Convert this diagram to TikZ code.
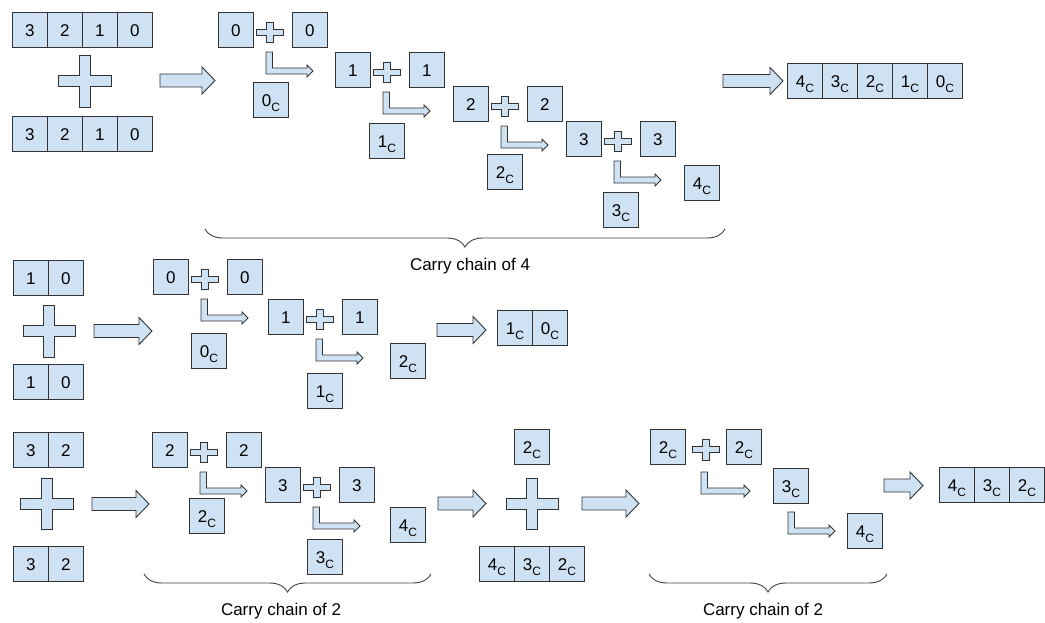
\documentclass[tikz,border=0pt]{standalone}
\usepackage{fontspec}
\setmainfont{Liberation Sans}
\usetikzlibrary{decorations.pathreplacing}
\definecolor{boxblue}{HTML}{CFE2F3}
\definecolor{edge}{HTML}{333333}

\newcommand{\mycarry}[1]{#1\raisebox{-5.5pt}{\fontsize{12}{12}\selectfont C}}

\tikzset{
 cell/.style={draw=edge, fill=boxblue, line width=0.9pt, minimum width=35pt, minimum height=35pt, inner sep=0pt, anchor=north west, text height=12.2pt, text depth=0pt, font=\fontsize{17}{20}\selectfont},
 shp/.style={draw=edge, fill=boxblue, line width=0.9pt, line join=miter},
 bracestyle/.style={draw=black!75, line width=0.9pt, decorate, decoration={brace, mirror, amplitude=18pt, aspect=0.5}},
 lbl/.style={anchor=base, font=\fontsize{17}{20}\selectfont, inner sep=0pt}
}

\newcommand{\myblockarrow}[3]{%
\draw[shp] (#1,#3-6.5) -- (#2-13,#3-6.5) -- (#2-13,#3-13.5) -- (#2,#3) -- (#2-13,#3+13.5) -- (#2-13,#3+6.5) -- (#1,#3+6.5) -- cycle;}

\newcommand{\myplus}[5]{%
\draw[shp] (#1-#5,#2-#4) -- (#1+#5,#2-#4) -- (#1+#5,#2-#5) -- (#1+#3,#2-#5) -- (#1+#3,#2+#5) -- (#1+#5,#2+#5) -- (#1+#5,#2+#4) -- (#1-#5,#2+#4) -- (#1-#5,#2+#5) -- (#1-#3,#2+#5) -- (#1-#3,#2-#5) -- (#1-#5,#2-#5) -- cycle;}

\newcommand{\mybent}[3]{%
\draw[shp] (#1,#2) -- (#1+6.5,#2) -- (#1+6.5,#2+16) -- (#3-6,#2+16) -- (#3-6,#2+13) -- (#3,#2+19) -- (#3-6,#2+25) -- (#3-6,#2+22) -- (#1,#2+22) -- cycle;}

\newcommand{\myunit}[7]{%
\node[cell] (#1a) at (#2,#3) {#4};
\myplus{#2+52}{#3+20.5}{13.5}{10}{3.1}
\node[cell] (#1b) at (#2+74,#3) {#4};
\mybent{#2+48}{#3+40}{#2+95}
\node[cell] (#1c) at (#2+#6,#3+#7) {#5};
}

\begin{document}
\begin{tikzpicture}[x=1pt,y=-1pt]
\useasboundingbox (0,0) rectangle (1045,622);

% ---------- Row 1 ----------
\node[cell] (ra0) at (12,12) {3};
\node[cell] (ra1) at (47,12) {2};
\node[cell] (ra2) at (82,12) {1};
\node[cell] (ra3) at (117,12) {0};
\myplus{84.5}{81}{26.5}{26}{5.5}
\node[cell] (rb0) at (12,116) {3};
\node[cell] (rb1) at (47,116) {2};
\node[cell] (rb2) at (82,116) {1};
\node[cell] (rb3) at (117,116) {0};
\myblockarrow{160}{215}{80.5}
\myunit{ua}{218}{12}{0}{\mycarry{0}}{35}{70}
\myunit{ub}{335}{52}{1}{\mycarry{1}}{34}{71}
\myunit{uc}{453}{86}{2}{\mycarry{2}}{34}{68}
\myunit{ud}{566}{121}{3}{\mycarry{3}}{37}{71}
\node[cell] (c4) at (684,165) {\mycarry{4}};
\myblockarrow{723}{783}{81}
\node[cell] (rr0) at (787,63) {\mycarry{4}};
\node[cell] (rr1) at (822,63) {\mycarry{3}};
\node[cell] (rr2) at (857,63) {\mycarry{2}};
\node[cell] (rr3) at (892,63) {\mycarry{1}};
\node[cell] (rr4) at (927,63) {\mycarry{0}};
\draw[bracestyle] (205,229) -- (725,229);
\node[lbl] (l1) at (470,270) {Carry chain of 4};

% ---------- Row 2 ----------
\node[cell] (sa0) at (13,260) {1};
\node[cell] (sa1) at (48,260) {0};
\myplus{49}{331}{26}{26}{5.5}
\node[cell] (sb0) at (13,364) {1};
\node[cell] (sb1) at (48,364) {0};
\myblockarrow{94}{152}{331}
\myunit{va}{153}{259}{0}{\mycarry{0}}{38}{74}
\myunit{vb}{268}{299}{1}{\mycarry{1}}{39}{74}
\node[cell] (v2) at (390,343) {\mycarry{2}};
\myblockarrow{437}{486}{330}
\node[cell] (sr0) at (497,310) {\mycarry{1}};
\node[cell] (sr1) at (532,310) {\mycarry{0}};

% ---------- Row 3 ----------
\node[cell] (ta0) at (13,432) {3};
\node[cell] (ta1) at (48,432) {2};
\myplus{46.5}{503.5}{26.5}{25.5}{5.5}
\node[cell] (tb0) at (13,546) {3};
\node[cell] (tb1) at (48,546) {2};
\myblockarrow{92}{149}{504}
\myunit{wa}{152}{432}{2}{\mycarry{2}}{37}{66}
\myunit{wb}{265}{467}{3}{\mycarry{3}}{42}{72}
\node[cell] (w4) at (390,507) {\mycarry{4}};
\draw[bracestyle] (144,574) -- (431,574);
\node[lbl] (l2) at (281,615) {Carry chain of 2};

\myblockarrow{438}{486}{503.5}
\node[cell] (x2) at (514,429) {\mycarry{2}};
\myplus{532}{503.5}{26}{25.5}{5.5}
\node[cell] (xs0) at (479,546) {\mycarry{4}};
\node[cell] (xs1) at (514,546) {\mycarry{3}};
\node[cell] (xs2) at (549,546) {\mycarry{2}};
\myblockarrow{582}{639}{503.5}

\node[cell] (y2a) at (650,429) {\mycarry{2}};
\myplus{706}{449.5}{13.5}{10.5}{3.1}
\node[cell] (y2b) at (726,429) {\mycarry{2}};
\mybent{701}{472}{750}
\node[cell] (y3) at (773,468) {\mycarry{3}};
\mybent{788}{512}{835}
\node[cell] (y4) at (847,513) {\mycarry{4}};
\draw[bracestyle] (649,574) -- (887,574);
\node[lbl] (l3) at (763,615) {Carry chain of 2};

\myblockarrow{884}{923}{485.5}
\node[cell] (z0) at (939,467) {\mycarry{4}};
\node[cell] (z1) at (974,467) {\mycarry{3}};
\node[cell] (z2) at (1009,467) {\mycarry{2}};
\end{tikzpicture}
\end{document}
